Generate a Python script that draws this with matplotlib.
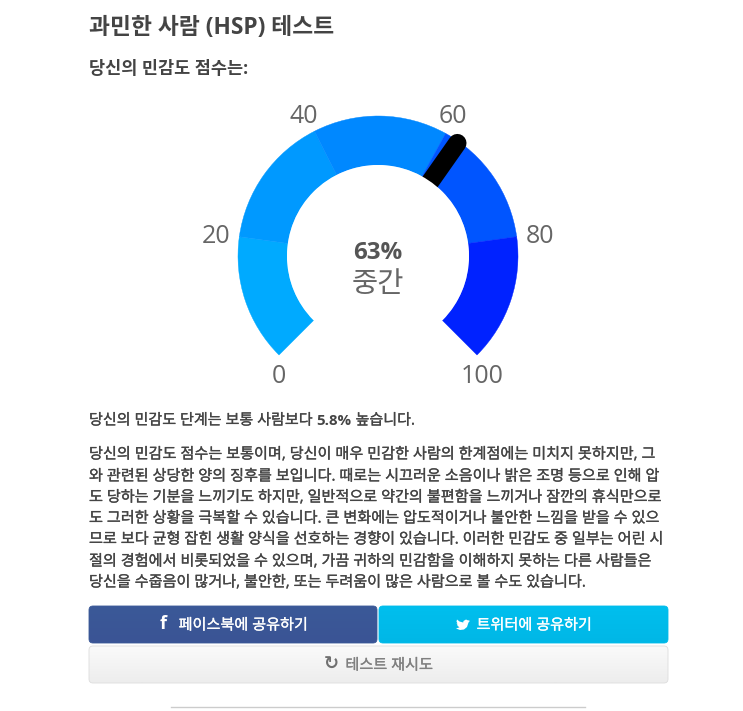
import numpy as np
import matplotlib
matplotlib.use('Agg')
import matplotlib.pyplot as plt
import matplotlib.patheffects as pe
from matplotlib.patches import Wedge, Circle, FancyBboxPatch, PathPatch
from matplotlib.path import Path

# Gauge data
band_edges = [0, 19.6, 40, 60.7, 80.4, 100]
band_colors = ['#00AAFF', '#0099FF', '#0088FF', '#0055FF', '#0022FF']
tick_values = [0, 20, 40, 60, 80, 100]
score = 63
score_label = '63%'
level_label = '중간'

# Page text
title = '과민한 사람 (HSP) 테스트'
subtitle = '당신의 민감도 점수는:'
summary = ['당신의 민감도 단계는 보통 사람보다 ', '5.8%', ' 높습니다.']
paragraph = [
    '당신의 민감도 점수는 보통이며, 당신이 매우 민감한 사람의 한계점에는 미치지 못하지만, 그',
    '와 관련된 상당한 양의 징후를 보입니다. 때로는 시끄러운 소음이나 밝은 조명 등으로 인해 압',
    '도 당하는 기분을 느끼기도 하지만, 일반적으로 약간의 불편함을 느끼거나 잠깐의 휴식만으로',
    '도 그러한 상황을 극복할 수 있습니다. 큰 변화에는 압도적이거나 불안한 느낌을 받을 수 있으',
    '므로 보다 균형 잡힌 생활 양식을 선호하는 경향이 있습니다. 이러한 민감도 중 일부는 어린 시',
    '절의 경험에서 비롯되었을 수 있으며, 가끔 귀하의 민감함을 이해하지 못하는 다른 사람들은',
    '당신을 수줍음이 많거나, 불안한, 또는 두려움이 많은 사람으로 볼 수도 있습니다.',
]
btn_facebook = '페이스북에 공유하기'
btn_twitter = '트위터에 공유하기'
btn_retry = '테스트 재시도'

plt.rcParams['font.family'] = ['Open Sans', 'Noto Sans CJK KR', 'DejaVu Sans']

W, H = 743, 711
fig = plt.figure(figsize=(W / 100, H / 100), dpi=100)
ax = fig.add_axes([0, 0, 1, 1])
ax.set_xlim(0, W)
ax.set_ylim(H, 0)
ax.axis('off')

# Thin stroke to thicken regular weight text a bit
def thick(color, w=0.2):
    return [pe.withStroke(linewidth=w, foreground=color)]


# Gauge geometry, in its own axes so angles run the normal way
cx, cy = 378, 256
r_out, r_in = 140, 91
box = 175
gax = fig.add_axes([(cx - box) / W, 1 - (cy + box) / H, 2 * box / W, 2 * box / H])
gax.set_xlim(-box, box)
gax.set_ylim(-box, box)
gax.axis('off')
gax.patch.set_alpha(0)


def val2deg(v):
    return 225 - 270 * v / 100


for i, c in enumerate(band_colors):
    gax.add_patch(Wedge((0, 0), r_out, val2deg(band_edges[i + 1]), val2deg(band_edges[i]),
                        width=r_out - r_in, fc=c, ec=c, lw=0.3, zorder=1))

# Needle: round outer end, the inner end gets cut by the white disc
a = np.radians(val2deg(score))
gax.plot([0, 138 * np.cos(a)], [0, 138 * np.sin(a)], color='black', lw=13.2,
         solid_capstyle='round', zorder=2)
gax.add_patch(Circle((0, 0), r_in, fc='white', ec='none', zorder=3))

# Tick labels, the two ends sit right under the arc corners
for v in tick_values:
    t = np.radians(val2deg(v))
    if v in (tick_values[0], tick_values[-1]):
        x = r_out * np.cos(t) + (5 if v == tick_values[-1] else 0)
        y = r_out * np.sin(t) - 22
    else:
        x, y = 164 * np.cos(t), 163 * np.sin(t) - 5.5
    gax.text(x, y, str(v), fontsize=18, color='#666666', ha='center', va='center', zorder=4)

gax.text(0, 3, score_label, fontsize=17.4, fontweight='bold', color='#555555',
         ha='center', va='center', zorder=4)
gax.text(0, -29, level_label, fontsize=20.5, color='#666666', ha='center', va='center', zorder=4)

# Headings
ax.text(89, 28, title, fontsize=16.4, fontweight='bold', color='#444444', va='center')
ax.text(89, 69, subtitle, fontsize=12.6, fontweight='bold', color='#444444', va='center')

# Summary line
sx = 89
rend = fig.canvas.get_renderer()
for i, part in enumerate(summary):
    t = ax.text(sx, 421, part, fontsize=10.85, color='#444444', va='center',
                fontweight='bold' if i == 1 else 'normal',
                path_effects=None if i == 1 else thick('#444444'))
    sx = t.get_window_extent(rend).x1

# Paragraph
line_y = [455, 477, 498, 519, 540, 562, 583]
for y, line in zip(line_y, paragraph):
    ax.text(89, y, line, fontsize=10.9, color='#444444', va='center', path_effects=thick('#444444'))


def button(x0, y0, x1, y1, top, bottom, edge):
    clip = FancyBboxPatch((x0, y0), x1 - x0, y1 - y0, boxstyle='round,pad=0,rounding_size=4',
                          fc='none', ec=edge, lw=0.6, zorder=2)
    ax.add_patch(clip)
    grad = np.linspace(0, 1, 32)[:, None]
    cols = np.array(matplotlib.colors.to_rgb(top)) * (1 - grad) + np.array(matplotlib.colors.to_rgb(bottom)) * grad
    im = ax.imshow(cols[:, None, :], extent=(x0, x1, y1, y0), aspect='auto', zorder=1)
    im.set_clip_path(clip)


button(89, 606, 377, 643, '#3B5998', '#3A5495', '#3B5998')
button(379, 606, 668, 643, '#00BFEE', '#00B7E6', '#00BCEB')
button(89, 646, 668, 683, '#FAFAFA', '#EDEDED', '#DDDDDD')
ax.set_xlim(0, W)
ax.set_ylim(H, 0)

# Button labels
ax.text(163.5, 624, 'f', fontsize=13, fontweight='bold', color='white', ha='center', va='center', family='Open Sans')
ax.text(243, 626, btn_facebook, fontsize=10.9, color='white', ha='center', va='center', path_effects=thick('white'))
ax.text(534, 626, btn_twitter, fontsize=10.9, color='white', ha='center', va='center', path_effects=thick('white'))
ax.text(389, 666, btn_retry, fontsize=10.9, color='#808080', ha='center', va='center', path_effects=thick('#808080'))
ax.text(331, 664, '\u21bb', fontsize=13, fontweight='bold', color='#707070', ha='center', va='center', family='DejaVu Sans')

# Twitter bird, rough outline (y runs down)
bird = [(0, 9.5), (4, 11), (8, 10.5), (11, 8), (12.5, 3.5), (14, 2), (12.8, 2.3), (13.7, 0.9), (12.2, 1.5),
        (10, 0.5), (7.5, 2), (7.2, 3.5), (3.5, 2.5), (1, 0.5), (0.5, 2.5), (1.5, 4.5), (0.5, 4.2), (1.8, 6.5),
        (1, 6.5), (3.5, 8.3)]
bird_path = Path([(456 + x, 619 + y) for x, y in bird] + [(456, 619)],
                 [Path.MOVETO] + [Path.LINETO] * (len(bird) - 1) + [Path.CLOSEPOLY])
ax.add_patch(PathPatch(bird_path, fc='white', ec='none', zorder=3))

# Bottom rule
ax.plot([171, 585], [706.5, 706.5], color='#CCCCCC', lw=1)

fig.savefig('out.png', dpi=100)
